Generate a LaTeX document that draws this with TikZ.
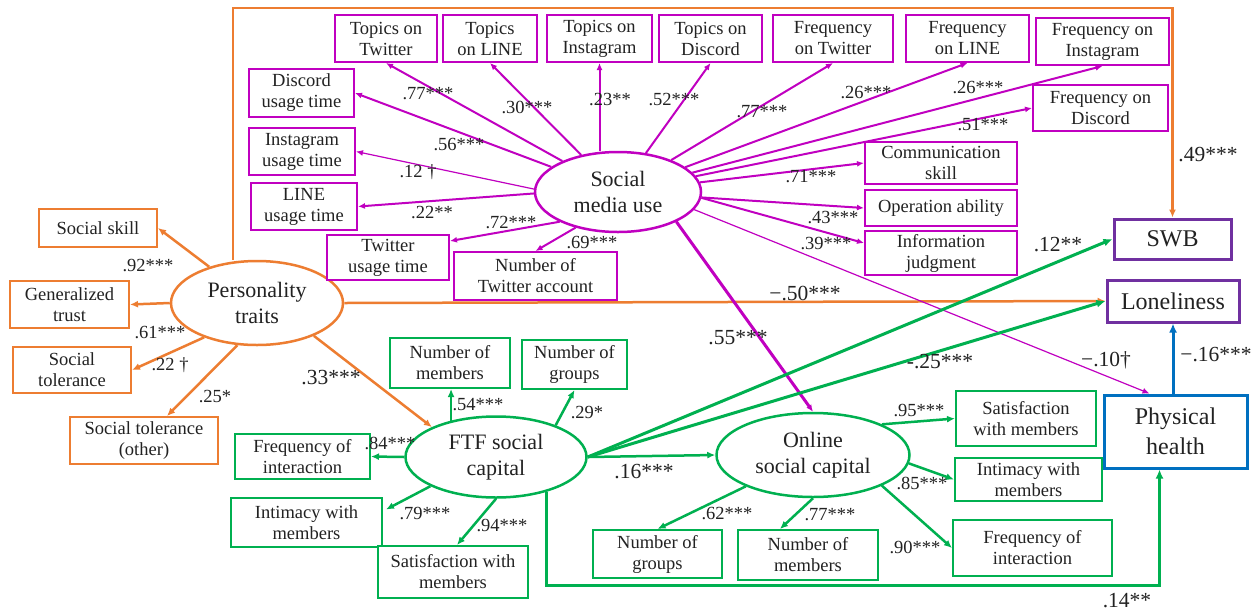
\documentclass[tikz,border=0pt]{standalone}
\usepackage{fontspec}
\setmainfont{Liberation Serif}
\newfontfamily\diagfont{Liberation Serif}
\usetikzlibrary{shapes.geometric,arrows.meta,calc}
\definecolor{orng}{HTML}{ED7D31}
\definecolor{mgnt}{HTML}{C000C0}
\definecolor{grn}{HTML}{00B050}
\definecolor{purp}{HTML}{7030A0}
\definecolor{blu}{HTML}{0070C0}
\definecolor{txt}{HTML}{222222}
\tikzset{
  box/.style={draw, rectangle, line width=2pt, inner sep=1pt, align=center, fill=white,
    font=\diagfont\fontsize{18.5}{21}\selectfont, text=txt},
  mbox/.style={box, draw=mgnt},
  obox/.style={box, draw=orng},
  gbox/.style={box, draw=grn},
  outbox/.style={draw, rectangle, line width=3pt, inner sep=1pt, align=center, fill=white,
    font=\diagfont\fontsize{24}{30}\selectfont, text=txt},
  latent/.style={draw, ellipse, line width=2.5pt, inner sep=0pt, align=center,
    font=\diagfont\fontsize{22}{26}\selectfont, text=txt},
  lab/.style={font=\diagfont\fontsize{18.5}{21}\selectfont, text=txt, inner sep=0pt},
  biglab/.style={font=\diagfont\fontsize{21.5}{24}\selectfont, text=txt, inner sep=0pt},
  marr/.style={draw=mgnt, line width=2pt, -{Latex[length=7pt,width=6pt]}},
  mthin/.style={draw=mgnt, line width=1.2pt, -{Latex[length=7pt,width=6pt]}},
  oarr/.style={draw=orng, line width=2.5pt, -{Latex[length=8pt,width=7pt]}},
  garr/.style={draw=grn, line width=2.5pt, -{Latex[length=8pt,width=7pt]}},
  gthick/.style={draw=grn, line width=3pt, -{Latex[length=9pt,width=8pt]}},
  barr/.style={draw=blu, line width=3pt, -{Latex[length=9pt,width=8pt]}},
}
\begin{document}
\begin{tikzpicture}[x=1pt,y=-1pt]
\useasboundingbox[fill=white] (0,0) rectangle (1258,614);

% ---- latent variables ----
\node[latent, draw=orng, minimum width=172, minimum height=84] (PT) at (257,303) {Personality\\traits};
\node[latent, draw=mgnt, minimum width=166, minimum height=80] (SM) at (618,192) {Social\\media use};
\node[latent, draw=grn, minimum width=181, minimum height=81] (FTF) at (496,457) {FTF social\\capital};
\node[latent, draw=grn, minimum width=193, minimum height=84] (OSC) at (813,455) {Online\\social capital};

% ---- outcomes ----
\node[outbox, draw=purp, minimum width=117, minimum height=40] (SWB) at (1172.5,239) {SWB};
\node[outbox, draw=purp, minimum width=132, minimum height=42] (Lon) at (1173,301) {Loneliness};
\node[outbox, draw=blu, minimum width=143, minimum height=73] (PH) at (1175.5,431.5) {Physical\\health};

% ---- social media indicators ----
\node[mbox, minimum width=102, minimum height=47] (tTw) at (386,38.5) {Topics on\\Twitter};
\node[mbox, minimum width=94, minimum height=47] (tLI) at (490,38.5) {Topics\\on LINE};
\node[mbox, minimum width=105, minimum height=47] (tIG) at (599.5,38.5) {Topics on\\Instagram};
\node[mbox, minimum width=103, minimum height=47] (tDC) at (710.5,38.5) {Topics on\\Discord};
\node[mbox, minimum width=120, minimum height=47] (fTw) at (833,38.5) {Frequency\\on Twitter};
\node[mbox, minimum width=123, minimum height=47] (fLI) at (967.5,38.5) {Frequency\\on LINE};
\node[mbox, minimum width=133, minimum height=47] (fIG) at (1102.5,41.5) {Frequency on\\Instagram};
\node[mbox, minimum width=135, minimum height=46] (fDC) at (1100.5,108) {Frequency on\\Discord};
\node[mbox, minimum width=152, minimum height=42] (comm) at (941,163) {Communication\\skill};
\node[mbox, minimum width=152, minimum height=36] (oper) at (941,208) {Operation ability};
\node[mbox, minimum width=152, minimum height=44] (info) at (941,253) {Information\\judgment};
\node[mbox, minimum width=105, minimum height=48] (dUT) at (301.5,93) {Discord\\usage time};
\node[mbox, minimum width=106, minimum height=47] (iUT) at (302,151.5) {Instagram\\usage time};
\node[mbox, minimum width=106, minimum height=47] (lUT) at (304,206.5) {LINE\\usage time};
\node[mbox, minimum width=122, minimum height=45] (tUT) at (388,257.5) {Twitter\\usage time};
\node[mbox, minimum width=163, minimum height=48] (nTA) at (535.5,276) {Number of\\Twitter account};

% ---- personality indicators ----
\node[obox, minimum width=118, minimum height=38] (sSk) at (98,228) {Social skill};
\node[obox, minimum width=119, minimum height=47] (gTr) at (69.5,304.5) {Generalized\\trust};
\node[obox, minimum width=118, minimum height=46] (sTo) at (72,370) {Social\\tolerance};
\node[obox, minimum width=148, minimum height=47] (sTO) at (144,440.5) {Social tolerance\\(other)};

% ---- FTF social capital indicators ----
\node[gbox, minimum width=120, minimum height=50] (fNM) at (450,363) {Number of\\members};
\node[gbox, minimum width=105, minimum height=49] (fNG) at (574.5,364.5) {Number of\\groups};
\node[gbox, minimum width=135, minimum height=45] (fFI) at (302.5,456.5) {Frequency of\\interaction};
\node[gbox, minimum width=151, minimum height=49] (fIM) at (306.5,522.5) {Intimacy with\\members};
\node[gbox, minimum width=150, minimum height=52] (fSM) at (453,572) {Satisfaction with\\members};

% ---- online social capital indicators ----
\node[gbox, minimum width=129, minimum height=48] (oNG) at (657.5,554) {Number of\\groups};
\node[gbox, minimum width=140, minimum height=50] (oNM) at (808,555) {Number of\\members};
\node[gbox, minimum width=140, minimum height=55] (oSM) at (1026,418.5) {Satisfaction\\with members};
\node[gbox, minimum width=147, minimum height=43] (oIM) at (1028.5,479.5) {Intimacy with\\members};
\node[gbox, minimum width=159, minimum height=56] (oFI) at (1032.5,548) {Frequency of\\interaction};

% ---- personality traits paths ----
\coordinate (topR) at (1172.5,8);
\draw[oarr] ([xshift=-24pt]PT.north) |- (topR) -- (SWB.north);
\draw[oarr] (PT.east) -- (Lon.west);
\draw[oarr] (PT.-30) -- (FTF.155);
\draw[oarr] (PT) -- (sSk.east);
\draw[oarr] (PT.west) -- (gTr.east);
\draw[oarr] (PT.213) -- (sTo.east);
\draw[oarr] (PT.245) -- ($(sTO.north)+(23,0)$);

% ---- social media use paths ----
\draw[marr] (SM) -- (tTw.south);
\draw[marr] (SM) -- (tLI.south);
\draw[marr] (tIG.south |- SM.north) -- (tIG.south);
\draw[marr] (SM) -- (tDC.south);
\draw[marr] (SM) -- (fTw.south);
\draw[marr] (SM) -- (fLI.south);
\draw[marr] (SM) -- (fIG.south);
\draw[marr] (SM) -- (fDC.west);
\draw[marr] (SM) -- (comm.west);
\draw[marr] (SM) -- (oper.west);
\draw[marr] (SM.-4) -- ($(info.west)+(0,-10)$);
\draw[marr] (SM) -- (dUT.east);
\draw[mthin] (SM.178) -- (iUT.east);
\draw[marr] (SM.181) -- (lUT.east);
\draw[marr] (SM.207) -- ($(tUT.north east)+(0,7)$);
\draw[marr] (SM.220) -- (nTA.north);
\draw[mthin] (SM.-13) -- ($(PH.north)+(-26,0)$);
\draw[marr, line width=3pt] (SM.-27) -- (OSC.north);

% ---- FTF social capital paths ----
\draw[garr] (FTF.141) -- (FTF.141 |- fNM.south);
\draw[garr] (FTF.28) -- (fNG.south);
\draw[garr] (FTF.west) -- (fFI.east);
\draw[garr] (FTF.204) -- ($(fIM.east)+(3,-13)$);
\draw[garr] (FTF.south) -- ($(fSM.north)+(4,0)$);
\draw[garr] (FTF.east) -- (OSC.west);
\draw[gthick] (FTF.east) -- (SWB.west);
\draw[gthick] (FTF.east) -- (Lon.west);
\coordinate (phin) at ($(PH.south)+(-16,0)$);
\draw[gthick] (FTF.-35.5) |- ($(phin)+(0,116)$) -- (phin);

% ---- online social capital paths ----
\draw[garr] (OSC.205) -- (oNG.north);
\draw[garr] (OSC.south) -- ($(oNM.north)+(-28,0)$);
\draw[garr] (OSC.24) -- (oSM.west);
\draw[garr] (OSC.-5) -- (oIM.west);
\draw[garr] (OSC.-24) -- (oFI.west);

% ---- physical health to loneliness ----
\draw[barr] (PH.north -| Lon.south) -- (Lon.south);

% ---- coefficients ----
\node[lab] (l92) at (148,265) {.92***};
\node[lab] (l61) at (160,332) {.61***};
\node[lab] (l22a) at (170,365) {.22 †};
\node[lab] (l25) at (215,396) {.25*};
\node[biglab] (l33) at (331,378) {.33***};
\node[lab] (l77a) at (428,94) {.77***};
\node[lab] (l30) at (527,107) {.30***};
\node[lab] (l23) at (610,100) {.23**};
\node[lab] (l52) at (674,100) {.52***};
\node[lab] (l77b) at (762,112) {.77***};
\node[lab] (l26a) at (866,93) {.26***};
\node[lab] (l26b) at (978,88) {.26***};
\node[lab] (l51) at (983,125) {.51***};
\node[lab] (l71) at (811,177) {.71***};
\node[lab] (l43) at (833,217) {.43***};
\node[lab] (l39) at (826,243) {.39***};
\node[lab] (l56) at (459,145) {.56***};
\node[lab] (l12) at (418,172) {.12 †};
\node[lab] (l22b) at (432,212) {.22**};
\node[lab] (l72) at (511,222) {.72***};
\node[lab] (l69) at (592,242) {.69***};
\node[biglab] (l49) at (1208,155) {.49***};
\node[biglab] (l50) at (805,293) {−.50***};
\node[biglab] (l55) at (738,338) {.55***};
\node[biglab] (l12b) at (1058,245) {.12**};
\node[biglab] (l25b) at (940,362) {-.25***};
\node[biglab] (l10) at (1106,360) {−.10†};
\node[biglab] (l16b) at (1216,355) {−.16***};
\node[lab] (l54) at (478,405) {.54***};
\node[lab] (l29) at (587,412) {.29*};
\node[lab] (l84) at (390,443) {.84***};
\node[lab] (l79) at (425,513) {.79***};
\node[lab] (l94) at (502,525) {.94***};
\node[biglab] (l16) at (644,472) {.16***};
\node[biglab] (l14) at (1127,601) {.14**};
\node[lab] (l62) at (727,513) {.62***};
\node[lab] (l77c) at (830,515) {.77***};
\node[lab] (l95) at (919,410) {.95***};
\node[lab] (l85) at (922,483) {.85***};
\node[lab] (l90) at (915,547) {.90***};
\end{tikzpicture}
\end{document}
